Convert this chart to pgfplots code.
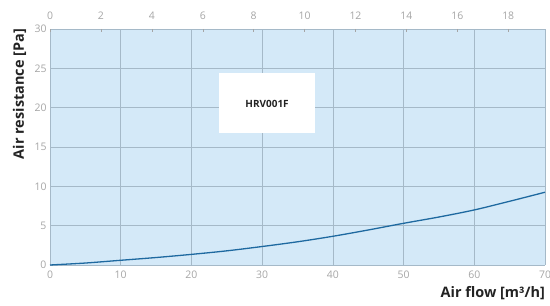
\documentclass[border=0pt]{standalone}
\usepackage{pgfplots}
\pgfplotsset{compat=1.18}
\usepackage{fontspec}
\setmainfont{Open Sans}
\definecolor{bgblue}{RGB}{212,233,248}
\definecolor{gridc}{RGB}{165,185,200}
\definecolor{tickc}{RGB}{165,165,165}
\definecolor{curve}{RGB}{30,105,160}
\definecolor{labc}{RGB}{35,35,35}
\begin{document}
\begin{tikzpicture}
\begin{axis}[
  scale only axis, width=495bp, height=236bp,
  xmin=0, xmax=70, ymin=0, ymax=30,
  xtick={0,10,...,70}, ytick={0,5,...,30},
  grid=major, major grid style={gridc, line width=0.5pt},
  axis line style={draw=none},
  major tick length=0pt,
  tick label style={font=\fontsize{10.5}{12}\selectfont, text=tickc},
  xticklabel shift=2pt,
  /pgf/number format/assume math mode=true,
  axis background/.style={fill=bgblue},
  xlabel={Air flow [m³/h]},
  ylabel={Air resistance [Pa]},
  label style={font=\bfseries\fontsize{14.5}{16}\selectfont, text=labc},
  xlabel style={at={(axis description cs:1,-0.09)}, anchor=north east, inner sep=0pt},
  ylabel style={at={(axis description cs:-0.048,1)}, anchor=south east, inner sep=0pt},
  clip=false,
]
\coordinate (SW) at (rel axis cs:0,0);
\coordinate (NE) at (rel axis cs:1,1);
\fill[white] (axis cs:23.9,16.8) rectangle (axis cs:37.5,24.4);
\node[font=\bfseries\fontsize{10}{11}\selectfont, text=labc] at (axis cs:30.7,20.5) {HRV001F};
\addplot[curve, line width=1.3pt, smooth] coordinates {
 (0,0) (5,0.25) (10,0.6) (15,0.95) (20,1.35) (25,1.8) (30,2.35) (35,2.95) (40,3.65) (45,4.45) (50,5.3) (55,6.1) (60,7.0) (65,8.1) (70,9.25)
};
\end{axis}
\begin{axis}[
  scale only axis, width=495bp, height=236bp,
  xmin=0, xmax=19.4444, ymin=0, ymax=30,
  axis x line*=top, axis y line=none,
  axis line style={draw=none},
  xtick={0,2,...,18},
  major tick length=3pt,
  tick style={tickc, line width=0.4pt},
  xticklabel shift=6pt,
  tick label style={font=\fontsize{10.5}{12}\selectfont, text=tickc},
  /pgf/number format/assume math mode=true,
]
\end{axis}
\pgfresetboundingbox
\path ([xshift=-50bp,yshift=-41bp]SW) rectangle ([xshift=5bp,yshift=29bp]NE);
\end{tikzpicture}
\end{document}
